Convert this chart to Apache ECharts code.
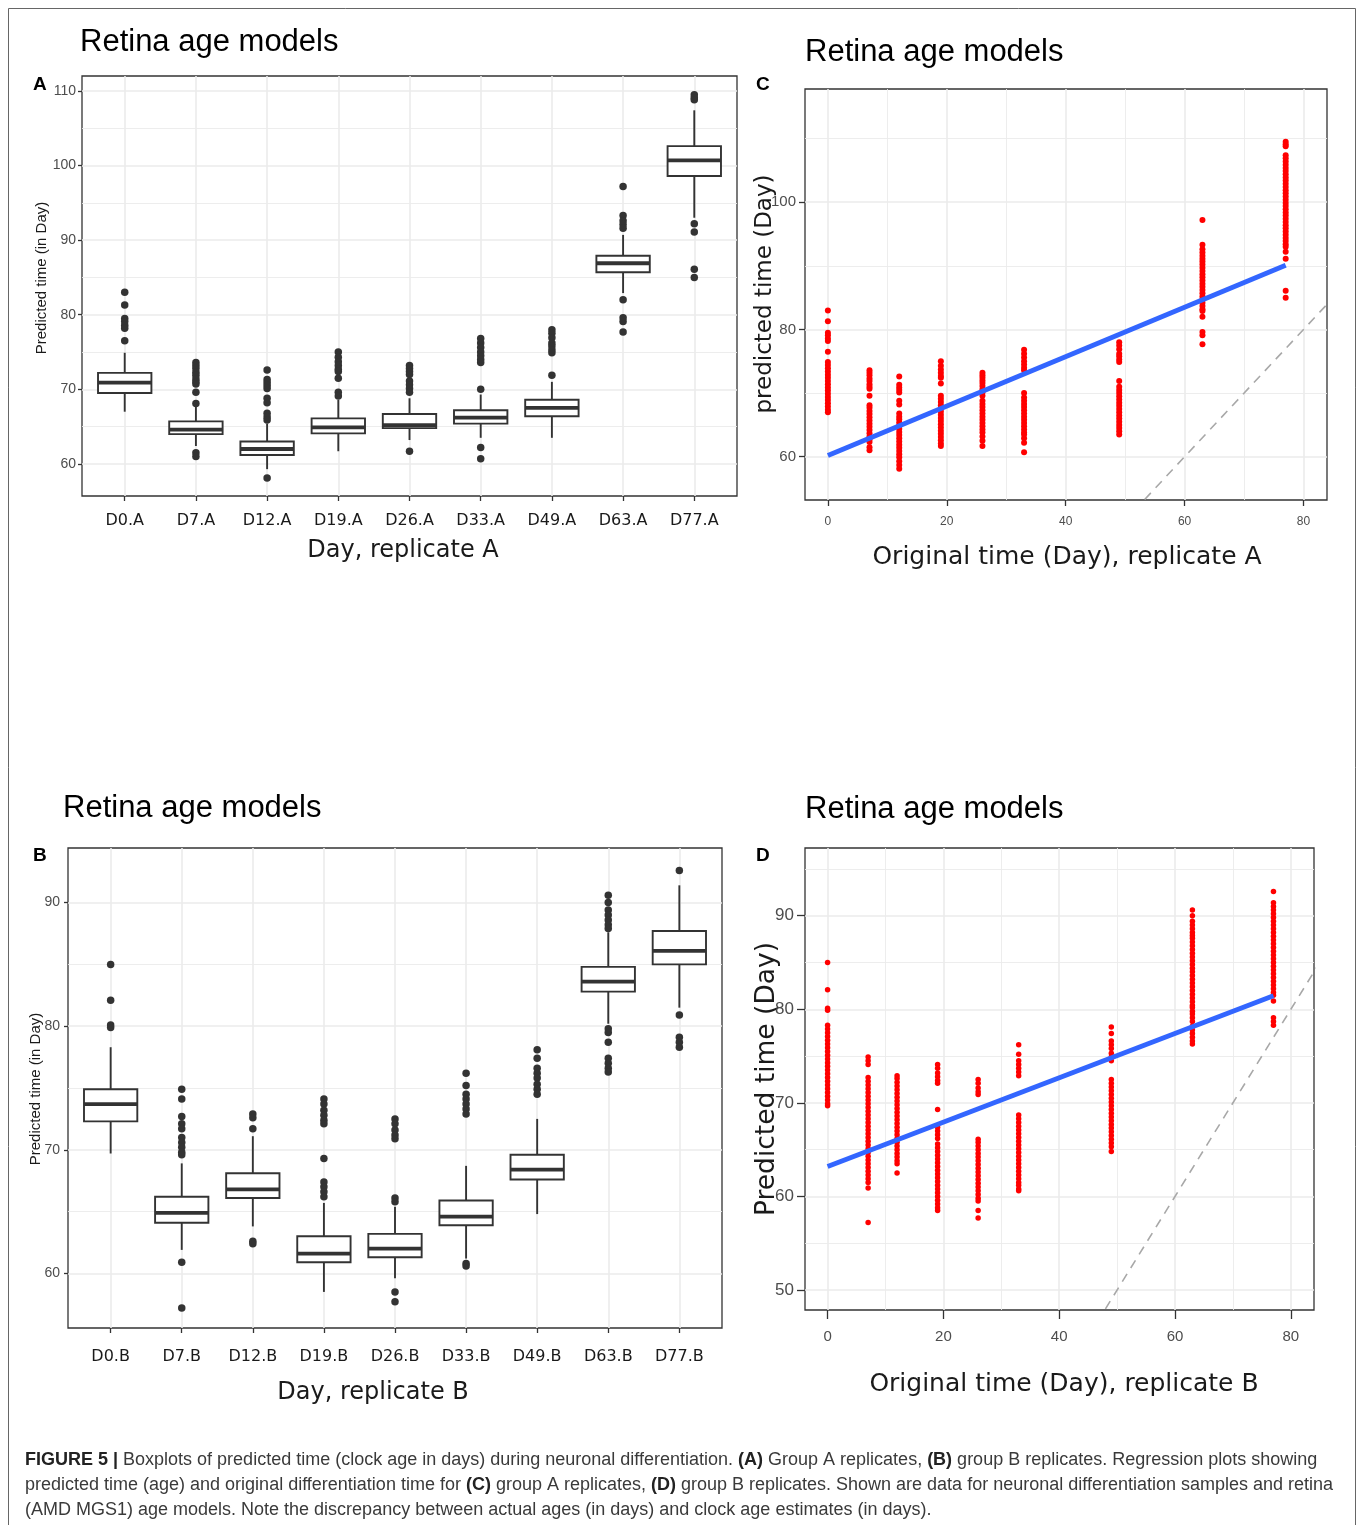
<!DOCTYPE html>
<html>
<head>
<meta charset="utf-8">
<title>Retina age models</title>
<script src="https://cdn.jsdelivr.net/npm/echarts@6/dist/echarts.min.js"></script>
<style>
  html, body { margin: 0; padding: 0; background: #fff; }
  #chart { width: 1358px; height: 1525px; }
</style>
</head>
<body>
<div id="chart"></div>
<script>
// categories
const catsA = ["D0.A", "D7.A", "D12.A", "D19.A", "D26.A", "D33.A", "D49.A", "D63.A", "D77.A"];
const catsB = ["D0.B", "D7.B", "D12.B", "D19.B", "D26.B", "D33.B", "D49.B", "D63.B", "D77.B"];
const days = [0, 7, 12, 19, 26, 33, 49, 63, 77];

// boxplot stats: [min, Q1, median, Q3, max]
const boxA = [
  [67.0, 69.5, 70.9, 72.2, 74.9],
  [62.4, 64.0, 64.6, 65.7, 67.7],
  [59.3, 61.2, 62.0, 63.0, 65.4],
  [61.7, 64.1, 64.9, 66.1, 68.6],
  [63.2, 64.8, 65.2, 66.7, 68.8],
  [63.5, 65.4, 66.2, 67.2, 69.3],
  [63.5, 66.4, 67.5, 68.6, 71.0],
  [82.9, 85.7, 86.9, 87.9, 90.7],
  [93.0, 98.6, 100.7, 102.6, 107.4]
];
const outliersA = [
  [83.0, 81.3, 79.5, 79.1, 78.6, 78.2, 76.5],
  [73.6, 73.2, 72.8, 72.3, 71.9, 71.4, 71.0, 70.7, 69.6, 68.1, 61.5, 61.0],
  [72.6, 71.3, 70.9, 70.5, 70.1, 68.8, 68.2, 66.8, 66.3, 65.9, 58.1],
  [75.0, 74.3, 73.7, 73.2, 72.7, 72.4, 71.5, 69.6, 69.1],
  [73.2, 72.8, 72.4, 72.0, 71.1, 70.6, 70.1, 69.6, 61.7],
  [76.8, 76.2, 75.6, 75.0, 74.5, 74.0, 73.6, 70.0, 62.2, 60.7],
  [78.0, 77.5, 76.9, 76.2, 75.8, 75.3, 74.9, 71.9],
  [97.2, 93.3, 92.6, 92.1, 91.6, 82.0, 79.6, 79.1, 77.7],
  [109.5, 109.1, 108.8, 92.2, 91.1, 86.1, 85.0]
];

const boxB = [
  [69.7, 72.3, 73.7, 74.9, 78.3],
  [61.9, 64.1, 64.9, 66.2, 68.9],
  [63.8, 66.1, 66.8, 68.1, 71.1],
  [58.5, 60.9, 61.6, 63.0, 65.7],
  [59.6, 61.3, 62.0, 63.2, 65.4],
  [61.2, 63.9, 64.6, 65.9, 68.7],
  [64.8, 67.6, 68.4, 69.6, 72.5],
  [80.2, 82.8, 83.6, 84.8, 87.6],
  [81.5, 85.0, 86.1, 87.7, 91.4]
];
const outliersB = [
  [85.0, 82.1, 80.1, 79.9],
  [74.9, 74.1, 72.7, 72.1, 71.7, 71.0, 70.6, 70.2, 69.8, 69.6, 60.9, 57.2],
  [72.9, 72.6, 71.7, 62.6, 62.4],
  [74.1, 73.7, 73.2, 72.8, 72.4, 72.1, 69.3, 67.4, 67.0, 66.6, 66.2],
  [72.5, 72.1, 71.6, 71.2, 70.9, 66.1, 65.8, 58.5, 57.7],
  [76.2, 75.2, 74.5, 74.1, 73.7, 73.3, 72.9, 60.8, 60.6],
  [78.1, 77.4, 76.6, 76.2, 75.8, 75.3, 74.9, 74.5],
  [90.6, 90.0, 89.4, 89.0, 88.6, 88.2, 87.9, 79.8, 79.5, 78.7, 77.4, 77.0, 76.6, 76.3],
  [92.6, 80.9, 79.1, 78.7, 78.3]
];

// predicted time per sample, replicate A (panel C), one list per day
const pointsC = [
  [83.0, 81.3, 79.5, 79.1, 78.6, 78.2, 76.5, 74.9, 74.4, 73.9, 73.4, 72.9, 72.4, 71.9, 71.4, 70.9, 70.4, 69.9, 69.4, 68.9, 68.4, 67.9, 67.4, 67.0],
  [73.6, 73.2, 72.8, 72.3, 71.9, 71.4, 71.0, 70.7, 69.6, 68.1, 67.7, 67.2, 66.7, 66.2, 65.7, 65.2, 64.7, 64.2, 63.7, 63.2, 62.7, 62.3, 61.5, 61.0],
  [72.6, 71.3, 70.9, 70.5, 70.1, 68.8, 68.2, 66.8, 66.3, 65.9, 65.4, 64.9, 64.4, 63.9, 63.4, 62.9, 62.4, 61.9, 61.4, 60.9, 60.4, 59.9, 59.3, 58.7, 58.1],
  [75.0, 74.3, 73.7, 73.2, 72.7, 72.4, 71.5, 69.6, 69.1, 68.6, 68.1, 67.6, 67.1, 66.6, 66.1, 65.6, 65.1, 64.6, 64.1, 63.6, 63.1, 62.6, 62.1, 61.7],
  [73.2, 72.8, 72.4, 72.0, 71.6, 71.1, 70.6, 70.1, 69.6, 68.8, 68.3, 67.8, 67.3, 66.8, 66.3, 65.8, 65.3, 64.8, 64.3, 63.8, 63.2, 62.5, 61.7],
  [76.8, 76.2, 75.6, 75.0, 74.5, 74.0, 73.6, 70.0, 69.3, 68.8, 68.3, 67.8, 67.3, 66.8, 66.3, 65.8, 65.3, 64.8, 64.3, 63.8, 63.5, 62.9, 62.2, 60.7],
  [78.0, 77.5, 76.9, 76.2, 75.8, 75.3, 74.9, 71.9, 71.0, 70.5, 70.0, 69.5, 69.0, 68.5, 68.0, 67.5, 67.0, 66.5, 66.0, 65.5, 65.0, 64.5, 64.0, 63.5],
  [97.2, 93.3, 92.6, 92.1, 91.6, 91.1, 90.7, 90.2, 89.7, 89.2, 88.7, 88.2, 87.7, 87.2, 86.7, 86.2, 85.7, 85.2, 84.7, 84.2, 83.7, 83.2, 82.9, 82.0, 79.6, 79.1, 77.7],
  [109.5, 109.1, 108.8, 107.4, 106.9, 106.4, 105.9, 105.4, 104.9, 104.4, 103.9, 103.4, 102.9, 102.4, 101.9, 101.4, 100.9, 100.4, 99.9, 99.4, 98.9, 98.4, 97.9, 97.4, 96.9, 96.4, 95.9, 95.4, 94.9, 94.4, 93.9, 93.4, 93.0, 92.2, 91.1, 86.1, 85.0]
];

// replicate B (panel D)
const pointsD = [
  [85.0, 82.1, 80.1, 79.9, 78.3, 77.9, 77.5, 77.1, 76.7, 76.3, 75.9, 75.5, 75.1, 74.7, 74.3, 73.9, 73.5, 73.1, 72.7, 72.3, 71.9, 71.5, 71.1, 70.7, 70.3, 69.9, 69.7],
  [74.9, 74.5, 74.1, 72.7, 72.3, 71.9, 71.5, 71.1, 70.7, 70.3, 69.9, 69.5, 69.1, 68.7, 68.3, 67.9, 67.5, 67.1, 66.7, 66.3, 65.9, 65.5, 65.1, 64.7, 64.3, 63.9, 63.5, 63.1, 62.7, 62.3, 61.9, 61.5, 60.9, 57.2],
  [72.9, 72.6, 72.2, 71.8, 71.4, 71.0, 70.6, 70.2, 69.8, 69.4, 69.0, 68.6, 68.2, 67.8, 67.4, 67.0, 66.6, 66.2, 65.8, 65.4, 65.0, 64.6, 64.2, 63.8, 63.5, 62.5],
  [74.1, 73.7, 73.2, 72.8, 72.4, 72.1, 69.3, 67.4, 67.0, 66.6, 66.2, 65.6, 65.2, 64.8, 64.4, 64.0, 63.6, 63.2, 62.8, 62.4, 62.0, 61.6, 61.2, 60.8, 60.4, 60.0, 59.6, 59.2, 58.8, 58.5],
  [72.5, 72.1, 71.6, 71.2, 70.9, 66.1, 65.8, 65.4, 65.0, 64.6, 64.2, 63.8, 63.4, 63.0, 62.6, 62.2, 61.8, 61.4, 61.0, 60.6, 60.2, 59.8, 59.5, 58.5, 57.7],
  [76.2, 75.2, 74.5, 74.1, 73.7, 73.3, 72.9, 68.7, 68.3, 67.9, 67.5, 67.1, 66.7, 66.3, 65.9, 65.5, 65.1, 64.7, 64.3, 63.9, 63.5, 63.1, 62.7, 62.3, 61.9, 61.5, 61.2, 60.8, 60.6],
  [78.1, 77.4, 76.6, 76.2, 75.8, 75.3, 74.9, 74.5, 72.5, 72.1, 71.7, 71.3, 70.9, 70.5, 70.1, 69.7, 69.3, 68.9, 68.5, 68.1, 67.7, 67.3, 66.9, 66.5, 66.1, 65.7, 65.3, 64.8],
  [90.6, 90.0, 89.4, 89.0, 88.6, 88.2, 87.9, 87.6, 87.2, 86.8, 86.4, 86.0, 85.6, 85.2, 84.8, 84.4, 84.0, 83.6, 83.2, 82.8, 82.4, 82.0, 81.6, 81.2, 80.8, 80.4, 80.2, 79.8, 79.5, 79.1, 78.7, 78.2, 77.8, 77.4, 77.0, 76.6, 76.3],
  [92.6, 91.4, 91.0, 90.6, 90.2, 89.8, 89.4, 89.0, 88.6, 88.2, 87.8, 87.4, 87.0, 86.6, 86.2, 85.8, 85.4, 85.0, 84.6, 84.2, 83.8, 83.4, 83.0, 82.6, 82.2, 81.8, 81.5, 80.9, 79.1, 78.7, 78.3]
];

// fitted regression line ends (x = day, y = predicted)
const fitC = [[0, 60.2], [77, 90.1]];
const fitD = [[0, 63.2], [77, 81.45]];
const identity = [[0, 0], [120, 120]];

// tick values
const ticksA = [60, 70, 80, 90, 100, 110];
const minorA = [65, 75, 85, 95, 105];
const ticksB = [60, 70, 80, 90];
const minorB = [65, 75, 85];
const ticksCy = [60, 80, 100];
const minorCy = [70, 90, 110];
const ticksDy = [50, 60, 70, 80, 90];
const minorDy = [55, 65, 75, 85, 95];
const ticksX = [0, 20, 40, 60, 80];
const minorX = [10, 30, 50, 70];
const catIdx = [0, 1, 2, 3, 4, 5, 6, 7, 8];

const GRID = "#ebebeb";
const INK = "#333333";

function boxData(stats) {
  return stats.map((s, i) => [i].concat(s));
}
function outlierData(lists) {
  const out = [];
  lists.forEach((l, i) => l.forEach(v => out.push([i, v])));
  return out;
}
function pointData(lists) {
  const out = [];
  lists.forEach((l, i) => l.forEach(v => out.push([days[i], v])));
  return out;
}

// 用自定义系列画箱线图（ggplot 风格）
function renderBox(params, api) {
  const x = api.value(0);
  const half = 0.375;
  const q3L = api.coord([x - half, api.value(4)]);
  const q1R = api.coord([x + half, api.value(2)]);
  const top = api.coord([x, api.value(5)]);
  const bot = api.coord([x, api.value(1)]);
  const med = api.coord([x, api.value(3)]);
  const st = { stroke: INK, lineWidth: 1.9 };
  return {
    type: "group",
    children: [
      { type: "line", shape: { x1: top[0], y1: top[1], x2: top[0], y2: q3L[1] }, style: st },
      { type: "line", shape: { x1: bot[0], y1: bot[1], x2: bot[0], y2: q1R[1] }, style: st },
      { type: "rect", shape: { x: q3L[0], y: q3L[1], width: q1R[0] - q3L[0], height: q1R[1] - q3L[1] },
        style: { fill: "#fff", stroke: INK, lineWidth: 1.9 } },
      { type: "line", shape: { x1: q3L[0], y1: med[1], x2: q1R[0], y2: med[1] }, style: { stroke: INK, lineWidth: 3.8 } }
    ]
  };
}

function catXAxis(grid, cats, margin) {
  return {
    gridIndex: grid, type: "value", min: -0.6, max: 8.6,
    axisLine: { show: false, onZero: false },
    axisTick: { show: true, length: 5, customValues: catIdx, lineStyle: { color: INK, width: 1.3 } },
    axisLabel: { customValues: catIdx, formatter: v => cats[Math.round(v)], margin: margin,
      fontFamily: "DejaVu Sans", fontSize: 16, color: "#1a1a1a" },
    splitLine: { show: true, lineStyle: { color: GRID, width: 1.6 } }
  };
}
function numAxis(grid, min, max, ticks, o) {
  return {
    gridIndex: grid, type: "value", min: min, max: max,
    axisLine: { show: false, onZero: false },
    axisTick: { show: true, length: o.tick, customValues: ticks, lineStyle: { color: INK, width: 1.3 } },
    axisLabel: { customValues: ticks, margin: o.margin, fontFamily: "Liberation Sans", fontSize: o.size, color: "#4d4d4d" },
    splitLine: { show: true, lineStyle: { color: GRID, width: 1.6 } }
  };
}
function minorAxis(grid, min, max, ticks) {
  return {
    gridIndex: grid, type: "value", min: min, max: max,
    axisLine: { show: false, onZero: false },
    axisTick: { show: false, customValues: ticks },
    axisLabel: { show: false, customValues: ticks },
    splitLine: { show: true, lineStyle: { color: GRID, width: 0.9 } }
  };
}

function label(text, x, y, size, opts) {
  opts = opts || {};
  return {
    type: "text", x: x, y: y, rotation: opts.rot || 0, silent: true,
    style: {
      text: text, fontSize: size, fontFamily: opts.font || "Liberation Sans",
      fontWeight: opts.bold ? "bold" : "normal", fill: opts.color || "#000",
      textAlign: opts.align || "center", textVerticalAlign: "middle"
    }
  };
}

function caption(text, y) {
  return {
    type: "text", x: 25, y: y, silent: true,
    style: {
      text: text, textAlign: "left", textVerticalAlign: "middle",
      fontSize: 18, fontFamily: "Liberation Sans", fill: "#3a3a3a",
      rich: { b: { fontSize: 18, fontFamily: "Liberation Sans", fontWeight: "bold", fill: "#222" } }
    }
  };
}

const option = {
  animation: false,
  backgroundColor: "#fff",
  grid: [
    { left: 82, top: 76, width: 655, height: 420, show: true, borderColor: INK, borderWidth: 1.3, backgroundColor: "#fff" },
    { left: 805, top: 89, width: 522, height: 411, show: true, borderColor: INK, borderWidth: 1.3, backgroundColor: "#fff" },
    { left: 68, top: 848, width: 654, height: 480, show: true, borderColor: INK, borderWidth: 1.3, backgroundColor: "#fff" },
    { left: 805, top: 848, width: 509, height: 462, show: true, borderColor: INK, borderWidth: 1.3, backgroundColor: "#fff" }
  ],
  xAxis: [
    catXAxis(0, catsA, 17),
    numAxis(1, -3.85, 83.95, ticksX, { tick: 6, margin: 16, size: 12 }),
    catXAxis(2, catsB, 21),
    numAxis(3, -3.9, 84.0, ticksX, { tick: 9, margin: 19, size: 15 }),
    minorAxis(1, -3.85, 83.95, minorX),
    minorAxis(3, -3.9, 84.0, minorX)
  ],
  yAxis: [
    numAxis(0, 55.7, 112, ticksA, { tick: 4, margin: 6, size: 14 }),
    minorAxis(0, 55.7, 112, minorA),
    numAxis(1, 53.2, 117.8, ticksCy, { tick: 6, margin: 9, size: 15 }),
    minorAxis(1, 53.2, 117.8, minorCy),
    numAxis(2, 55.58, 94.42, ticksB, { tick: 4, margin: 8, size: 14 }),
    minorAxis(2, 55.58, 94.42, minorB),
    numAxis(3, 47.86, 97.24, ticksDy, { tick: 8, margin: 11, size: 17 }),
    minorAxis(3, 47.86, 97.24, minorDy)
  ],
  series: [
    { type: "custom", xAxisIndex: 0, yAxisIndex: 0, renderItem: renderBox, data: boxData(boxA),
      encode: { x: 0, y: [1, 2, 3, 4, 5] }, z: 3 },
    { type: "scatter", xAxisIndex: 0, yAxisIndex: 0, data: outlierData(outliersA), symbolSize: 7.5,
      itemStyle: { color: INK, opacity: 1 }, z: 4 },
    { type: "scatter", xAxisIndex: 1, yAxisIndex: 2, data: pointData(pointsC), symbolSize: 6,
      itemStyle: { color: "#ff0000", opacity: 1 }, z: 3 },
    { type: "line", xAxisIndex: 1, yAxisIndex: 2, data: identity, symbol: "none", clip: true,
      lineStyle: { color: "#a8a8a8", width: 1.6, type: [9, 7] }, z: 2 },
    { type: "line", xAxisIndex: 1, yAxisIndex: 2, data: fitC, symbol: "none",
      lineStyle: { color: "#3366ff", width: 5 }, z: 5 },
    { type: "custom", xAxisIndex: 2, yAxisIndex: 4, renderItem: renderBox, data: boxData(boxB),
      encode: { x: 0, y: [1, 2, 3, 4, 5] }, z: 3 },
    { type: "scatter", xAxisIndex: 2, yAxisIndex: 4, data: outlierData(outliersB), symbolSize: 7.5,
      itemStyle: { color: INK, opacity: 1 }, z: 4 },
    { type: "scatter", xAxisIndex: 3, yAxisIndex: 6, data: pointData(pointsD), symbolSize: 5.5,
      itemStyle: { color: "#ff0000", opacity: 1 }, z: 3 },
    { type: "line", xAxisIndex: 3, yAxisIndex: 6, data: identity, symbol: "none", clip: true,
      lineStyle: { color: "#a8a8a8", width: 1.6, type: [9, 7] }, z: 2 },
    { type: "line", xAxisIndex: 3, yAxisIndex: 6, data: fitD, symbol: "none",
      lineStyle: { color: "#3366ff", width: 5 }, z: 5 }
  ],
  graphic: [
    { type: "rect", silent: true, shape: { x: 8.5, y: 8.5, width: 1347, height: 1540 },
      style: { fill: "none", stroke: "#666", lineWidth: 1 } },
    // panel titles
    label("Retina age models", 80, 42, 31, { align: "left" }),
    label("Retina age models", 805, 52, 31, { align: "left" }),
    label("Retina age models", 63, 808, 31, { align: "left" }),
    label("Retina age models", 805, 809, 31, { align: "left" }),
    // panel letters
    label("A", 33, 85, 19, { align: "left", bold: true }),
    label("C", 756, 85, 19, { align: "left", bold: true }),
    label("B", 33, 856, 19, { align: "left", bold: true }),
    label("D", 756, 856, 19, { align: "left", bold: true }),
    // axis titles
    label("Day, replicate A", 403, 551, 24, { font: "DejaVu Sans", color: "#1a1a1a" }),
    label("Predicted time (in Day)", 42, 278, 15, { rot: Math.PI / 2, color: "#1a1a1a" }),
    label("Day, replicate B", 373, 1393, 24, { font: "DejaVu Sans", color: "#1a1a1a" }),
    label("Predicted time (in Day)", 36, 1089, 15, { rot: Math.PI / 2, color: "#1a1a1a" }),
    label("Original time (Day), replicate A", 1067, 557, 25, { font: "DejaVu Sans", color: "#1a1a1a" }),
    label("predicted time (Day)", 765, 294, 23, { rot: Math.PI / 2, font: "DejaVu Sans", color: "#1a1a1a" }),
    label("Original time (Day), replicate B", 1064, 1384, 25, { font: "DejaVu Sans", color: "#1a1a1a" }),
    label("Predicted time (Day)", 767, 1079, 26.5, { rot: Math.PI / 2, font: "DejaVu Sans", color: "#1a1a1a" }),
    // caption
    caption("{b|FIGURE 5 |} Boxplots of predicted time (clock age in days) during neuronal differentiation. {b|(A)} Group A replicates, {b|(B)} group B replicates. Regression plots showing", 1460),
    caption("predicted time (age) and original differentiation time for {b|(C)} group A replicates, {b|(D)} group B replicates. Shown are data for neuronal differentiation samples and retina", 1485),
    caption("(AMD MGS1) age models. Note the discrepancy between actual ages (in days) and clock age estimates (in days).", 1510)
  ]
};

const chart = echarts.init(document.getElementById("chart"));
chart.setOption(option);
window.addEventListener("resize", () => chart.resize());
</script>
</body>
</html>
